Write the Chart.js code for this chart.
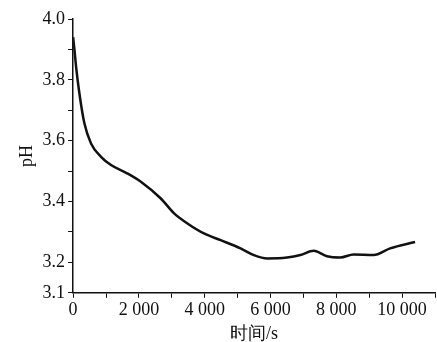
<!DOCTYPE html>
<html>
<head>
<meta charset="utf-8">
<script src="https://cdn.jsdelivr.net/npm/chart.js@4"></script>
<style>
  html, body { margin: 0; padding: 0; background: #fff; }
  #clip { width: 437px; height: 342px; overflow: hidden; }
  #wrap { width: 437px; height: 345px; position: relative; }
</style>
</head>
<body>
<div id="clip"><div id="wrap"><canvas id="chart"></canvas></div></div>
<script>
// time (s) and pH
const timeS = [0, 40, 91, 191, 343, 545, 848, 1152, 1657, 2060, 2667, 3070, 3475, 3980, 4485, 5090, 5495, 5900, 6505, 6909, 7313, 7718, 8121, 8525, 9131, 9636, 10394];
const phVals = [3.94, 3.90, 3.843, 3.756, 3.657, 3.591, 3.547, 3.52, 3.492, 3.465, 3.41, 3.361, 3.328, 3.295, 3.273, 3.246, 3.224, 3.213, 3.216, 3.224, 3.238, 3.22, 3.216, 3.226, 3.224, 3.246, 3.267];

const yTicks = [3.1, 3.2, 3.3, 3.4, 3.5, 3.6, 3.7, 3.8, 3.9, 4.0];
const yLabels = ['3.1', '3.2', '', '3.4', '', '3.6', '', '3.8', '', '4.0'];
const xTicks = [0, 1000, 2000, 3000, 4000, 5000, 6000, 7000, 8000, 9000, 10000, 11000];
const xLabels = ['0', '', '2 000', '', '4 000', '', '6 000', '', '8 000', '', '10 000', ''];

const font = { family: '"Liberation Serif", "DejaVu Serif", serif', size: 18 };

new Chart(document.getElementById('chart'), {
  type: 'line',
  data: {
    datasets: [{
      data: timeS.map((t, i) => ({ x: t, y: phVals[i] })),
      borderColor: '#111',
      borderWidth: 2.5,
      pointRadius: 0,
      cubicInterpolationMode: 'monotone',
      fill: false,
    }],
  },
  options: {
    responsive: true,
    maintainAspectRatio: false,
    animation: false,
    layout: { padding: { top: 19, right: 2, left: 16, bottom: 0 } },
    plugins: { legend: { display: false }, tooltip: { enabled: false } },
    scales: {
      x: {
        type: 'linear',
        min: 0,
        max: 11000,
        afterBuildTicks: axis => { axis.ticks = xTicks.map(v => ({ value: v })); },
        ticks: {
          color: '#111',
          font,
          padding: 2,
          maxRotation: 0,
          autoSkip: false,
          callback: (v, i) => xLabels[i],
        },
        grid: { drawOnChartArea: false, drawTicks: true, tickLength: 5, color: '#111' },
        border: { color: '#111', width: 1.5 },
        title: { display: true, text: '时间/s', color: '#111', font, padding: { top: 0, bottom: 0 } },
      },
      y: {
        min: 3.1,
        max: 4.0,
        afterBuildTicks: axis => { axis.ticks = yTicks.map(v => ({ value: v })); },
        ticks: {
          color: '#111',
          font,
          padding: 3,
          autoSkip: false,
          callback: (v, i) => yLabels[i],
        },
        grid: { drawOnChartArea: false, drawTicks: true, tickLength: 5, color: '#111' },
        border: { color: '#111', width: 1.5 },
        title: { display: true, text: 'pH', color: '#111', font, padding: { top: 0, bottom: 2 } },
      },
    },
  },
});
</script>
</body>
</html>
